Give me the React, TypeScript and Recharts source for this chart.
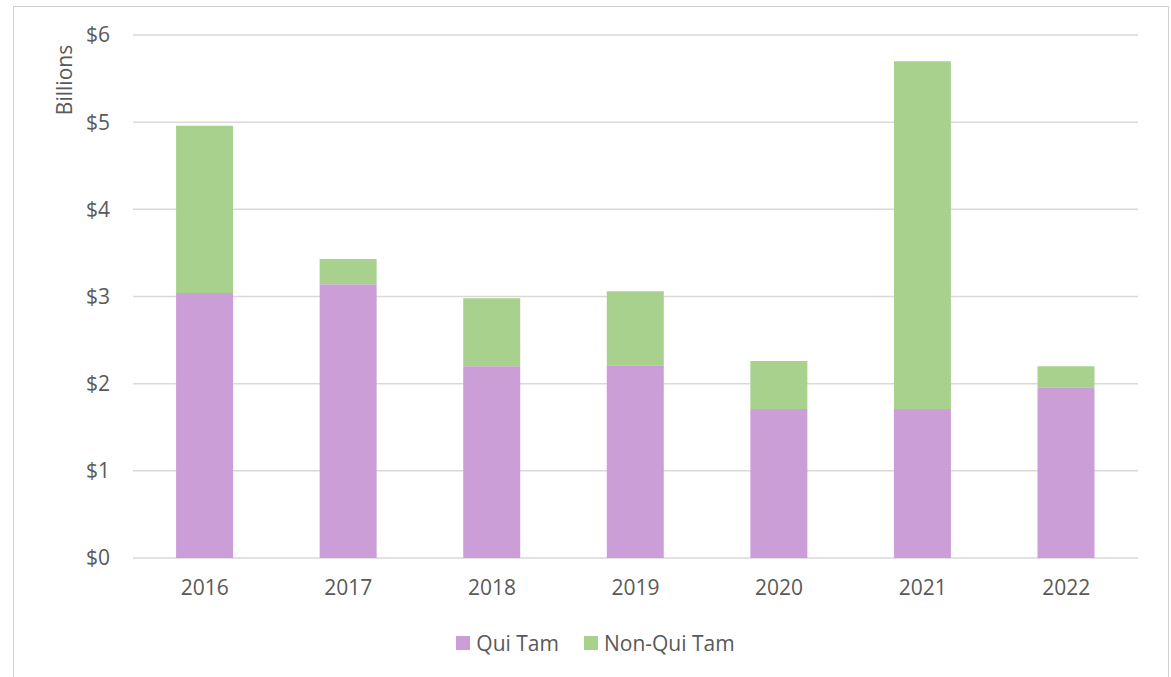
import { BarChart, Bar, XAxis, YAxis, CartesianGrid, Legend } from 'recharts';

const years = ['2016', '2017', '2018', '2019', '2020', '2021', '2022'];
const quiTam = [3.04, 3.14, 2.2, 2.21, 1.71, 1.71, 1.96];
const nonQuiTam = [1.92, 0.29, 0.78, 0.85, 0.55, 3.99, 0.24];
const yTicks = [0, 1, 2, 3, 4, 5, 6];
const seriesOrder = ['Qui Tam', 'Non-Qui Tam'];

const data = years.map((year, i) => ({ year, quiTam: quiTam[i], nonQuiTam: nonQuiTam[i] }));

const FONT = '"Open Sans", sans-serif';
const TEXT = '#595959';
const FS = 21;

function LegendContent(props: any) {
  const items = [...(props.payload || [])].sort(
    (a: any, b: any) => seriesOrder.indexOf(a.value) - seriesOrder.indexOf(b.value)
  );
  return (
    <div style={{ display: 'flex', justifyContent: 'center', alignItems: 'center', height: 30, fontFamily: FONT, fontSize: FS, color: TEXT, paddingLeft: 53 }}>
      {items.map((it: any, i: number) => (
        <div key={i} style={{ display: 'flex', alignItems: 'center', marginRight: i < items.length - 1 ? 25 : 0 }}>
          <span style={{ display: 'inline-block', width: 14, height: 14, background: it.color, marginRight: 6 }} />
          <span>{it.value}</span>
        </div>
      ))}
    </div>
  );
}

export default function App() {
  return (
    <div style={{ position: 'fixed', left: 0, top: 0, width: 1171, height: 677, overflow: 'hidden', background: '#fff' }}>
      <div style={{ position: 'absolute', left: 13, top: 6, width: 1154, height: 720, border: '1px solid #d0d0d0' }} />
      <div style={{ position: 'absolute', left: 0, top: 0 }}>
        <BarChart width={1171} height={677} data={data} margin={{ top: 35, right: 33, left: 0, bottom: 19 }} barCategoryGap="30%">
          <CartesianGrid vertical={false} stroke="#d9d9d9" strokeWidth={1.5} />
          <XAxis
            dataKey="year"
            height={70}
            axisLine={false}
            tickLine={false}
            tickSize={0}
            tickMargin={22}
            tick={{ fontSize: FS, fill: TEXT, fontFamily: FONT }}
          />
          <YAxis
            width={133}
            domain={[0, 6]}
            ticks={yTicks}
            interval={0}
            axisLine={false}
            tickLine={false}
            tickSize={0}
            tickMargin={23}
            tickFormatter={(v: number) => `$${v}`}
            tick={{ fontSize: FS, fill: TEXT, fontFamily: FONT }}
            label={{
              content: () => (
                <text
                  transform="translate(64,80) rotate(-90)"
                  textAnchor="middle"
                  dominantBaseline="central"
                  fontSize={FS}
                  fill={TEXT}
                  fontFamily={FONT}
                >
                  Billions
                </text>
              ),
            }}
          />
          <Legend verticalAlign="bottom" height={30} content={<LegendContent />} />
          <Bar dataKey="quiTam" name="Qui Tam" stackId="a" fill="#CC9ED8" isAnimationActive={false} />
          <Bar dataKey="nonQuiTam" name="Non-Qui Tam" stackId="a" fill="#A9D18E" isAnimationActive={false} />
        </BarChart>
      </div>
    </div>
  );
}
